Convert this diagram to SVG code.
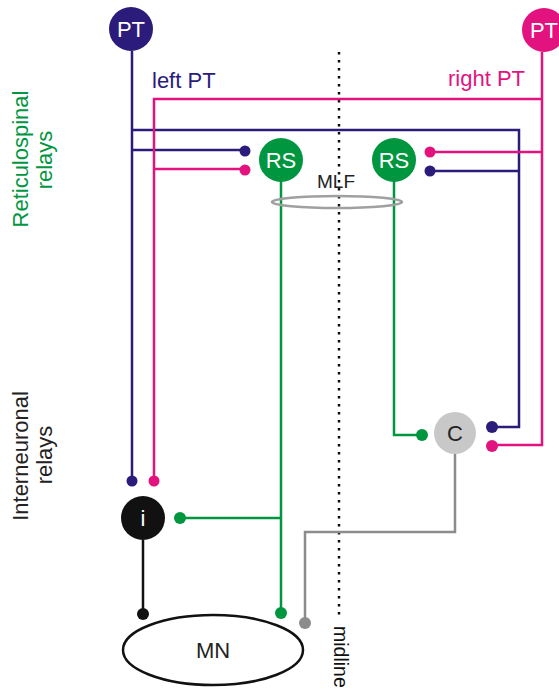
<svg xmlns="http://www.w3.org/2000/svg" width="559" height="690" viewBox="0 0 559 690">
<style>
text{font-family:"Liberation Sans",Arial,sans-serif}
.ln{fill:none;stroke-width:2.5}
.b{stroke:#2b1b7a}
.p{stroke:#e2137f}
.g{stroke:#00963f}
.k{stroke:#111}
.gr{stroke:#8c8c8c}
.db{fill:#2b1b7a}
.dp{fill:#e2137f}
.dg{fill:#00963f}
.dk{fill:#111}
.dgr{fill:#8c8c8c}
.lbl{font-size:22px;text-anchor:middle}
</style>
<rect width="559" height="690" fill="#fff"/>
<g id="midline">
<line x1="339" y1="52" x2="339" y2="620" stroke="#111" stroke-width="2.5" stroke-dasharray="2.5,5.5"/>
<text transform="translate(334,626) rotate(90)" font-size="19.5" fill="#111">midline</text>
</g>
<g id="connectors">
<polyline class="ln b" points="132,51 132,476"/>
<polyline class="ln b" points="132,130 519,130 519,427 493,427"/>
<polyline class="ln b" points="132,150 245,150"/>
<polyline class="ln b" points="519,171 430,171"/>
<polyline class="ln p" points="154,476 154,99 542,99"/>
<polyline class="ln p" points="542,52 542,445 492,445"/>
<polyline class="ln p" points="154,169 245,169"/>
<polyline class="ln p" points="542,152 430,152"/>
<polyline class="ln g" points="281,181 281,613"/>
<polyline class="ln g" points="281,518 180,518"/>
<polyline class="ln g" points="394,181 394,435 422,435"/>
<polyline class="ln gr" points="455,454 455,532 305,532 305,623"/>
<polyline class="ln k" points="143,540 143,614"/>
<circle class="db" cx="245" cy="151" r="5.5"/>
<circle class="dp" cx="245" cy="170" r="5.5"/>
<circle class="dp" cx="430" cy="152" r="5.5"/>
<circle class="db" cx="430" cy="171" r="5.5"/>
<circle class="db" cx="132" cy="481" r="5.5"/>
<circle class="dp" cx="154" cy="481" r="5.5"/>
<circle class="dg" cx="180" cy="518" r="6"/>
<circle class="dg" cx="422" cy="435" r="6"/>
<circle class="db" cx="492" cy="427" r="6"/>
<circle class="dp" cx="492" cy="446" r="6"/>
<circle class="dg" cx="281" cy="613" r="6"/>
<circle class="dk" cx="143" cy="614" r="6"/>
<circle class="dgr" cx="305" cy="623" r="6"/>
</g>
<g id="MLF">
<ellipse cx="337" cy="202" rx="65" ry="6" fill="none" stroke="#a0a0a0" stroke-width="2.5"/>
<text x="336" y="188" font-size="19" text-anchor="middle" fill="#222">MLF</text>
</g>
<g id="left-PT">
<circle cx="131" cy="29" r="22" fill="#2b1b7a"/>
<text class="lbl" x="131" y="37" fill="#fff">PT</text>
<text x="152" y="88" font-size="22" fill="#2b1b7a">left PT</text>
</g>
<g id="right-PT">
<circle cx="544" cy="30" r="22" fill="#e2137f"/>
<text class="lbl" x="544" y="38" fill="#fff">PT</text>
<text x="525" y="86" font-size="22" text-anchor="end" fill="#e2137f">right PT</text>
</g>
<g id="RS-left">
<circle cx="281" cy="160" r="22" fill="#00963f"/>
<text class="lbl" x="281" y="168" fill="#fff">RS</text>
</g>
<g id="RS-right">
<circle cx="394" cy="160" r="22" fill="#00963f"/>
<text class="lbl" x="394" y="168" fill="#fff">RS</text>
</g>
<g id="C">
<circle cx="455" cy="433" r="21" fill="#c8c8c8"/>
<text class="lbl" x="455" y="441" fill="#222">C</text>
</g>
<g id="i">
<circle cx="143" cy="518" r="22" fill="#111"/>
<text class="lbl" x="143" y="526" fill="#fff">i</text>
</g>
<g id="MN">
<ellipse cx="213" cy="650" rx="90" ry="35" fill="#fff" stroke="#111" stroke-width="2.5"/>
<text class="lbl" x="213" y="658" font-size="21" fill="#222">MN</text>
</g>
<g id="labels">
<text transform="translate(28,159) rotate(-90)" class="lbl" fill="#00963f">Reticulospinal</text>
<text transform="translate(52,160) rotate(-90)" class="lbl" fill="#00963f">relays</text>
<text transform="translate(28,456) rotate(-90)" class="lbl" fill="#222">Interneuronal</text>
<text transform="translate(52,455) rotate(-90)" class="lbl" fill="#222">relays</text>
</g>
</svg>
